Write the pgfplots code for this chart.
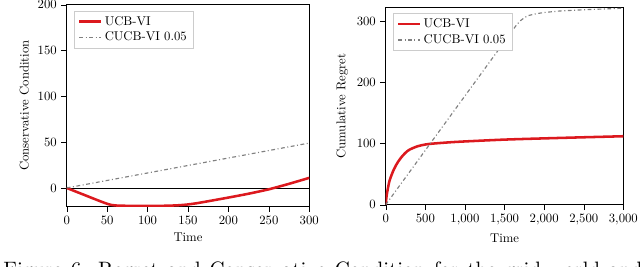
\documentclass[border=0pt]{standalone}
\usepackage{pgfplots}
\pgfplotsset{compat=1.18}
\definecolor{ucbred}{RGB}{220,25,30}
\begin{document}
\begin{tikzpicture}
\useasboundingbox (0,0) rectangle (503.9pt,-209.45pt);
\pgfplotsset{
  every axis/.append style={scale only axis, anchor=north west, tick align=outside,
    xtick pos=left, ytick pos=left, xlabel={Time}, legend pos=north west,
    legend style={draw=black!20, font=\normalsize}, legend cell align=left,
    enlargelimits=false, axis line style={black}, tick style={black}},
}
\begin{axis}[at={(52.5pt,-3.7pt)}, width=191pt, height=158.7pt,
  xmin=0, xmax=300, ymin=-20, ymax=200,
  xtick={0,50,...,300}, ytick={0,50,...,200},
  ylabel={Conservative Condition}]
\addplot[black, line width=0.6pt, forget plot] coordinates {(0,0) (300,0)};
\addplot[ucbred, line width=2pt, smooth, tension=0.3] coordinates {
(0,0) (10,-3.5) (20,-7) (30,-10.5) (40,-14) (50,-17.3) (55,-18.5) (62,-19.2) (75,-19.5)
(100,-19.6) (125,-19.4) (140,-18.8) (150,-18) (160,-16.8) (175,-14.5) (200,-10.5)
(225,-6.3) (250,-1.5) (275,4.5) (300,11)};
\addplot[gray, line width=0.9pt, dash pattern=on 3pt off 2pt on 0.8pt off 2pt] coordinates {(0,0) (300,49)};
\legend{UCB-VI, CUCB-VI 0.05}
\end{axis}
\begin{axis}[at={(303.7pt,-5.75pt)}, width=187.1pt, height=155.4pt,
  xmin=0, xmax=3000, ymin=0, ymax=323, scaled x ticks=false,
  xtick={0,500,...,3000}, ytick={0,100,200,300},
  ylabel={Cumulative Regret}]
\addplot[ucbred, line width=2pt, smooth] coordinates {
(0,0) (10,13) (25,25) (50,40) (100,57) (150,69) (200,78) (250,85) (300,90) (400,95.5)
(500,98.5) (600,100) (800,102) (1000,103.5) (1500,106.5) (2000,108.5) (2500,110.3) (3000,112)};
\addplot[gray, line width=0.9pt, dash pattern=on 3pt off 2pt on 0.8pt off 2pt] coordinates {
(0,0) (500,89) (1000,178) (1500,267) (1650,294) (1700,301) (1750,306) (1800,309.5)
(1900,312.5) (2000,314.5) (2200,317) (2500,319) (3000,321.5)};
\legend{UCB-VI, CUCB-VI 0.05}
\end{axis}
\begin{scope}
\clip (0,0) rectangle (503.9pt,-209.45pt);
\node[anchor=base west, inner sep=0pt, scale=1.64, font=\normalsize] at (2.4pt,-217.5pt)
  {\spaceskip=4.18pt Figure 6: Regret and Conservative Condition for the grid world and the};
\end{scope}
\end{tikzpicture}
\end{document}
